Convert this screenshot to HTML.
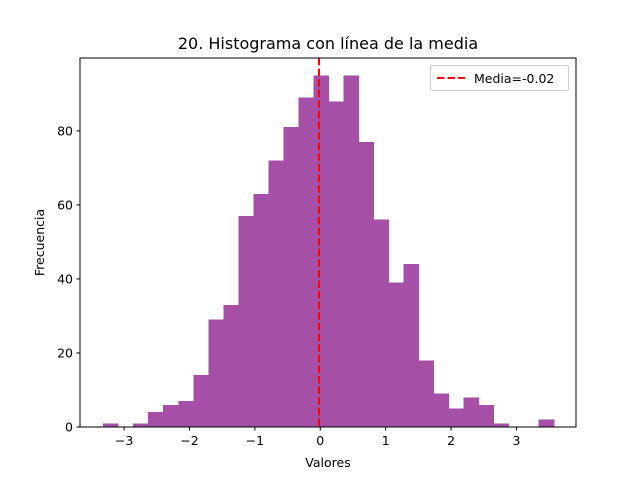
<!DOCTYPE html>
<html><head><meta charset="utf-8"><style>body{margin:0;background:#fff}svg{display:block}text{font-family:"DejaVu Sans","Liberation Sans",sans-serif;fill:#000}</style></head>
<body>
<svg id="chart" width="640" height="480" xmlns="http://www.w3.org/2000/svg">
<rect x="0" y="0" width="640" height="480" fill="#fff"/>
<text x="328" y="49" font-size="16" text-anchor="middle">20. Histograma con línea de la media</text>
<g id="bars" shape-rendering="crispEdges"></g>
<g id="xticks"></g>
<g id="yticks"></g>
<line id="meanline" stroke="#ff0000" stroke-width="2" stroke-dasharray="7.4,3.2"/>
<rect x="80" y="58" width="496" height="369" fill="none" stroke="#000" stroke-width="1"/>
<text x="328" y="467" font-size="12.5" text-anchor="middle">Valores</text>
<text x="44" y="242.5" font-size="12.5" text-anchor="middle" transform="rotate(-90 44 242.5)">Frecuencia</text>
<g>
<rect x="430.5" y="65.5" width="138" height="25" rx="2" fill="#fff" stroke="#ccc"/>
<line x1="437" y1="78" x2="465" y2="78" stroke="#ff0000" stroke-width="2" stroke-dasharray="7.4,3.2"/>
<text x="474" y="83" font-size="12.5">Media=-0.02</text>
</g>
</svg>
<script>
const counts=[1,0,1,4,6,7,14,29,33,57,63,72,81,89,95,88,95,77,56,39,44,18,9,5,8,6,1,0,0,2];
const binStart=-3.32;
const binEnd=3.57;
const meanValue=-0.02;
const xTicks=[-3,-2,-1,0,1,2,3];
const yTicks=[0,20,40,60,80];
const xMin=-3.674,xMax=3.91,yMax=99.7;
const X=v=>80+(v-xMin)/(xMax-xMin)*496;
const Y=v=>427-v/yMax*369;
const NS="http://www.w3.org/2000/svg";
const bars=document.getElementById('bars');
const w=(binEnd-binStart)/counts.length;
counts.forEach((c,i)=>{
 if(c<=0)return;
 const r=document.createElementNS(NS,'rect');
 const x0=X(binStart+i*w),x1=X(binStart+(i+1)*w);
 r.setAttribute('x',x0);r.setAttribute('width',x1-x0+0.5);
 r.setAttribute('y',Y(c));r.setAttribute('height',Y(0)-Y(c));
 r.setAttribute('fill','#a64fa6');
 
 
 bars.appendChild(r);
});
const xt=document.getElementById('xticks');
xTicks.forEach(t=>{
 const l=document.createElementNS(NS,'line');
 l.setAttribute('x1',X(t));l.setAttribute('x2',X(t));l.setAttribute('y1',427);l.setAttribute('y2',430.5);l.setAttribute('stroke','#000');
 
 
 xt.appendChild(l);
 const tx=document.createElementNS(NS,'text');
 tx.setAttribute('x',X(t));tx.setAttribute('y',445);tx.setAttribute('font-size','12.5');tx.setAttribute('text-anchor','middle');
 tx.textContent=t<0?'\u2212'+Math.abs(t):String(t);
 
 
 xt.appendChild(tx);
});
const yt=document.getElementById('yticks');
yTicks.forEach(t=>{
 const l=document.createElementNS(NS,'line');
 l.setAttribute('x1',76.5);l.setAttribute('x2',80);l.setAttribute('y1',Y(t));l.setAttribute('y2',Y(t));l.setAttribute('stroke','#000');
 
 
 yt.appendChild(l);
 const tx=document.createElementNS(NS,'text');
 tx.setAttribute('x',73);tx.setAttribute('y',Y(t)+4.5);tx.setAttribute('font-size','12.5');tx.setAttribute('text-anchor','end');
 tx.textContent=String(t);
 
 
 yt.appendChild(tx);
});
const m=document.getElementById('meanline');
m.setAttribute('x1',X(meanValue));m.setAttribute('x2',X(meanValue));m.setAttribute('y1',58);m.setAttribute('y2',427);
</script>
</body></html>
